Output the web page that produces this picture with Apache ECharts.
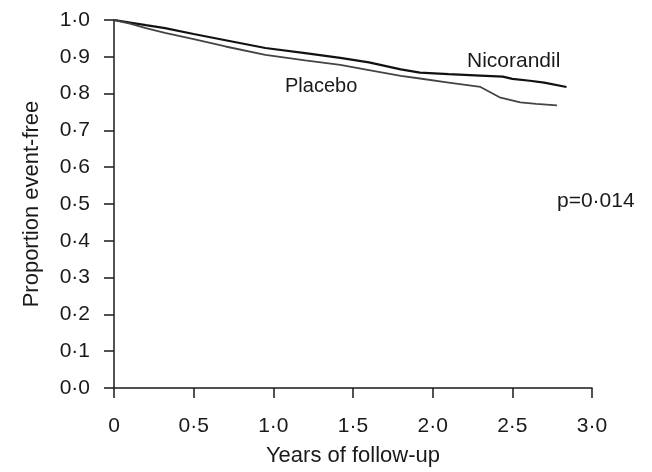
<!DOCTYPE html>
<html>
<head>
<meta charset="utf-8">
<script src="https://cdn.jsdelivr.net/npm/echarts@6/dist/echarts.min.js"></script>
<style>
  html, body { margin: 0; padding: 0; background: #fff; }
  #chart { width: 652px; height: 472px; }
</style>
</head>
<body>
<div id="chart"></div>
<script>
// years of follow-up, proportion event-free
const nicorandilYears = [0, 0.1, 0.2, 0.32, 0.5, 0.7, 0.95, 1.2, 1.42, 1.6, 1.8, 1.92, 2.1, 2.3, 2.44, 2.5, 2.61, 2.7, 2.84];
const nicorandilValues = [1.0, 0.993, 0.986, 0.978, 0.962, 0.945, 0.924, 0.91, 0.897, 0.885, 0.866, 0.857, 0.853, 0.849, 0.846, 0.84, 0.835, 0.83, 0.818];
const placeboYears = [0, 0.1, 0.2, 0.32, 0.5, 0.7, 0.95, 1.2, 1.42, 1.6, 1.8, 1.92, 2.1, 2.3, 2.42, 2.55, 2.65, 2.78];
const placeboValues = [1.0, 0.99, 0.978, 0.965, 0.948, 0.928, 0.905, 0.89, 0.878, 0.864, 0.848, 0.841, 0.83, 0.818, 0.79, 0.776, 0.772, 0.768];
const xTicks = ['0', '0·5', '1·0', '1·5', '2·0', '2·5', '3·0'];
const yTicks = ['0·0', '0·1', '0·2', '0·3', '0·4', '0·5', '0·6', '0·7', '0·8', '0·9', '1·0'];

const font = "'Liberation Sans', Arial, sans-serif";
const ink = '#1a1a1a';

const mychart = echarts.init(document.getElementById('chart'));

const pairs = (xs, ys) => xs.map((x, i) => [x, ys[i]]);

const option = {
  animation: false,
  grid: { left: 114, right: 60, top: 20, bottom: 83 },
  xAxis: {
    type: 'value',
    min: 0, max: 3, interval: 0.5,
    offset: 14,
    name: 'Years of follow-up',
    nameLocation: 'middle',
    nameGap: 43,
    nameTextStyle: { color: ink, fontSize: 22, fontFamily: font },
    axisLine: { lineStyle: { color: ink, width: 1.5 } },
    axisTick: { length: 10, lineStyle: { color: ink, width: 1.5 } },
    axisLabel: {
      color: ink, fontSize: 21, fontFamily: font, margin: 14,
      formatter: v => xTicks[Math.round(v * 2)]
    },
    splitLine: { show: false }
  },
  yAxis: {
    type: 'value',
    min: 0, max: 1, interval: 0.1,
    offset: 9,
    name: 'Proportion event-free',
    nameLocation: 'middle',
    nameGap: 62,
    nameTextStyle: { color: ink, fontSize: 22, fontFamily: font },
    axisLine: { show: true, lineStyle: { color: ink, width: 1.5 } },
    axisTick: { show: true, length: 10, lineStyle: { color: ink, width: 1.5 } },
    axisLabel: {
      color: ink, fontSize: 21, fontFamily: font, margin: 15,
      formatter: v => yTicks[Math.round(v * 10)]
    },
    splitLine: { show: false }
  },
  series: [
    {
      name: 'Nicorandil',
      type: 'line',
      showSymbol: false,
      data: pairs(nicorandilYears, nicorandilValues),
      lineStyle: { color: '#111', width: 2.2 }
    },
    {
      name: 'Placebo',
      type: 'line',
      showSymbol: false,
      data: pairs(placeboYears, placeboValues),
      lineStyle: { color: '#444', width: 1.8 }
    }
  ],
  graphic: [
    { type: 'text', left: 467, top: 51, style: { text: 'Nicorandil', fill: ink, fontSize: 21, fontFamily: font } },
    { type: 'text', left: 285, top: 76, style: { text: 'Placebo', fill: ink, fontSize: 20, fontFamily: font } },
    { type: 'text', left: 557, top: 191, style: { text: 'p=0·014', fill: ink, fontSize: 21, fontFamily: font } }
  ]
};

mychart.setOption(option, true);
</script>
</body>
</html>
